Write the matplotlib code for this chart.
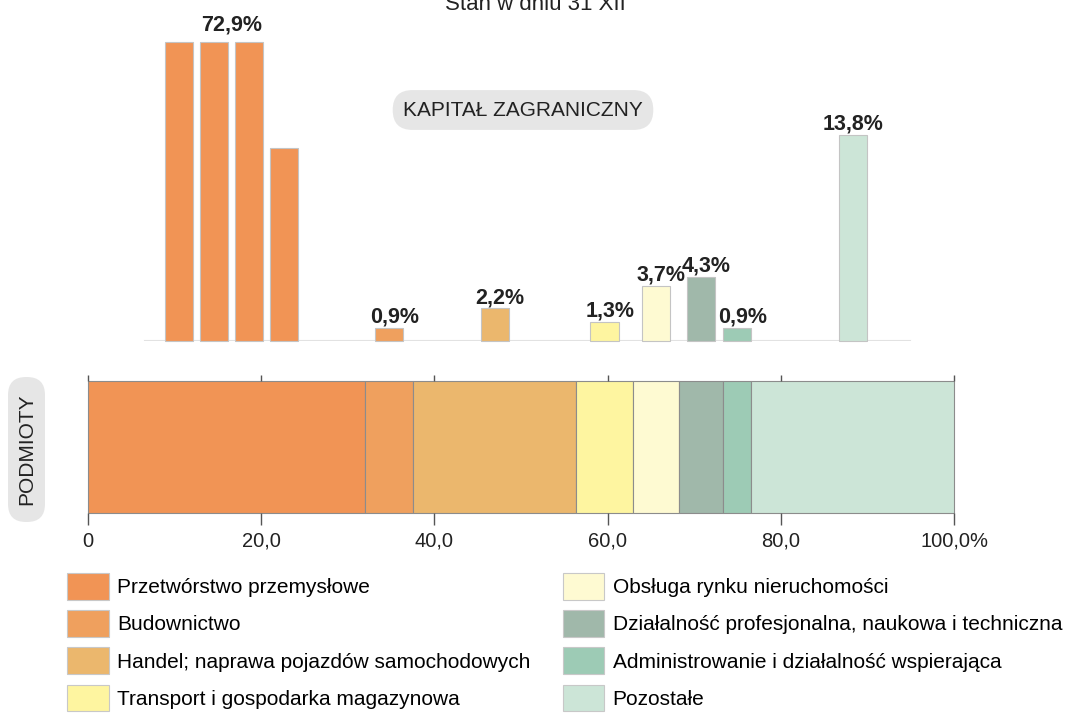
import numpy as np
import matplotlib
matplotlib.use('Agg')
import matplotlib.pyplot as plt
from matplotlib.patches import Patch, FancyBboxPatch
from matplotlib.transforms import IdentityTransform

plt.rcParams['font.family'] = ['Liberation Sans', 'DejaVu Sans']

# sekcje PKD
sections = ['Przetwórstwo przemysłowe', 'Budownictwo',
            'Handel; naprawa pojazdów samochodowych',
            'Transport i gospodarka magazynowa',
            'Obsługa rynku nieruchomości',
            'Działalność profesjonalna, naukowa i techniczna',
            'Administrowanie i działalność wspierająca', 'Pozostałe']
# udział podmiotów (%) - dolny pasek
podmioty = np.array([32.0, 5.5, 18.9, 6.5, 5.4, 5.0, 3.3, 23.4])
# udział kapitału zagranicznego (%) - górne słupki
kapital = np.array([72.9, 0.9, 2.2, 1.3, 3.7, 4.3, 0.9, 13.8])
colors = ['#f19455', '#efa05e', '#ebb76d', '#fef5a0',
          '#fefad2', '#a0b8aa', '#9dcbb5', '#cce5d7']

tick_values = [0, 20, 40, 60, 80, 100]
tick_labels = ['0', '20,0', '40,0', '60,0', '80,0', '100,0%']

W, H = 1086, 713
fig = plt.figure(figsize=(W / 100, H / 100), dpi=100)

# dolny pasek skumulowany
ax = fig.add_axes([88 / W, 1 - 513 / H, 866 / W, 132 / H])
left = np.concatenate([[0], np.cumsum(podmioty)[:-1]])
ax.barh(0, podmioty, left=left, height=1, align='edge', color=colors,
        edgecolor='#8c8c8c', linewidth=0.8, clip_on=False)
ax.set_xlim(0, 100)
ax.set_ylim(0, 1)
ax.set_yticks([])
for s in ['left', 'right', 'top', 'bottom']:
    ax.spines[s].set_visible(False)
ax.set_xticks(tick_values, tick_labels)
ax.tick_params(axis='x', top=True, bottom=True, direction='out', length=8.6,
               width=1, color='#555555', labelsize=14.5, pad=5,
               labelcolor='#222222')
for t in ax.xaxis.get_major_ticks():
    t.tick2line.set_markersize(4.3)

# górne słupki - kapitał zagraniczny
axt = fig.add_axes([88 / W, 1 - 341 / H, 866 / W, 299 / H])
axt.set_xlim(0, 100)
axt.set_ylim(0, 20)
axt.axis('off')
axt.axhline(0, xmin=0.066, xmax=0.949, color='#e2e2e2', lw=1.5, zorder=0)

centers = left + podmioty / 2
cap = 20  # słupek przerywany co 20%
for c, v, col in zip(centers, kapital, colors):
    n = int(np.ceil(v / cap))
    heights = [cap] * (n - 1) + [v - cap * (n - 1)]
    if n > 1:
        xs = c + 0.55 + (np.arange(n) - (n - 1) / 2) * 4.05
        lx, off = xs.mean(), 12
    else:
        xs = np.array([c])
        lx, off = c + (0.6 if v < 10 else 0), 5
    axt.bar(xs, heights, width=3.25, color=col, edgecolor='#c4c4c4',
            linewidth=0.8, clip_on=False)
    axt.annotate(f'{v:.1f}%'.replace('.', ','), (lx, max(heights)),
                 xytext=(0, off * 0.72), textcoords='offset points',
                 ha='center', va='baseline', fontsize=15.5,
                 fontweight='bold', color='#222222', annotation_clip=False)

fig.text(523 / W, 1 - 110 / H, 'KAPITAŁ ZAGRANICZNY', ha='center',
         va='center', fontsize=15, color='#222222',
         bbox=dict(boxstyle='round,pad=0.5,rounding_size=0.95',
                   facecolor='#e6e6e6', edgecolor='none'))

# tło etykiety PODMIOTY
fig.patches.append(FancyBboxPatch((8, H - 522), 37, 145,
                                  boxstyle='round,pad=0,rounding_size=18',
                                  facecolor='#e6e6e6', edgecolor='none',
                                  transform=IdentityTransform(), figure=fig))
fig.text(27 / W, 1 - 449 / H, 'PODMIOTY', rotation=90, ha='center',
         va='center', fontsize=15, color='#222222')
fig.text(535 / W, 1 - 10 / H, 'Stan w dniu 31 XII', ha='center',
         va='baseline', fontsize=16, color='#222222')

handles = [Patch(facecolor=c, edgecolor='#c8c8c8', linewidth=0.8, label=s)
           for s, c in zip(sections, colors)]
fig.legend(handles=handles, loc='upper left',
           bbox_to_anchor=(67 / W, 1 - 573 / H), ncol=2, frameon=False,
           fontsize=15, handlelength=2.0, handleheight=1.6,
           handletextpad=0.4, labelspacing=0.5, columnspacing=1.55,
           borderpad=0, borderaxespad=0)

fig.savefig('out.png', dpi=100)
